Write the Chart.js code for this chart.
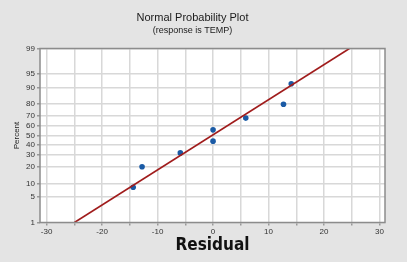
<!DOCTYPE html>
<html lang="en">
<head>
    <meta charset="UTF-8">
    <title>Normal Probability Plot</title>
    <script src="https://cdn.jsdelivr.net/npm/chart.js@4"></script>
    <style>
        body { margin: 0; background: #e4e4e4; }
    </style>
</head>
<body>
    <canvas id="myChart" width="407" height="262"></canvas>
    <script>
    // residuals, with their plotting percent
    var residuals = [-14.4, -12.8, -5.9, 0.0, 0.0, 5.9, 12.7, 14.1];
    var percents = [8.3, 20.2, 32.1, 44.0, 56.0, 67.9, 79.8, 91.7];
    // fitted line end points
    var fitResidual = [-25.0, 24.6];
    var fitPercent = [1, 99];
    // axes
    var xGridTicks = [-30, -25, -20, -15, -10, -5, 0, 5, 10, 15, 20, 25, 30];
    var xLabelTicks = [-30, -20, -10, 0, 10, 20, 30];
    var yTicks = [1, 5, 10, 20, 30, 40, 50, 60, 70, 80, 90, 95, 99];

    // inverse normal cdf (Acklam), used by the probability scale
    function qnorm(p) {
        var a = [-39.69683028665376, 220.9460984245205, -275.9285104469687, 138.3577518672690, -30.66479806614716, 2.506628277459239];
        var b = [-54.47609879822406, 161.5858368580409, -155.6989798598866, 66.80131188771972, -13.28068155288572];
        var c = [-0.007784894002430293, -0.3223964580411365, -2.400758277161838, -2.549732539343734, 4.374664141464968, 2.938163982698783];
        var d = [0.007784695709041462, 0.3224671290700398, 2.445134137142996, 3.754408661907416];
        var q, r;
        if (p < 0.02425) {
            q = Math.sqrt(-2 * Math.log(p));
            return (((((c[0]*q+c[1])*q+c[2])*q+c[3])*q+c[4])*q+c[5]) / ((((d[0]*q+d[1])*q+d[2])*q+d[3])*q+1);
        }
        if (p > 1 - 0.02425) {
            q = Math.sqrt(-2 * Math.log(1 - p));
            return -(((((c[0]*q+c[1])*q+c[2])*q+c[3])*q+c[4])*q+c[5]) / ((((d[0]*q+d[1])*q+d[2])*q+d[3])*q+1);
        }
        q = p - 0.5;
        r = q * q;
        return (((((a[0]*r+a[1])*r+a[2])*r+a[3])*r+a[4])*r+a[5])*q / (((((b[0]*r+b[1])*r+b[2])*r+b[3])*r+b[4])*r+1);
    }

    class ProbabilityScale extends Chart.LinearScale {
        determineDataLimits() {
            this.min = qnorm(yTicks[0] / 100);
            this.max = qnorm(yTicks[yTicks.length - 1] / 100);
        }
        buildTicks() {
            return yTicks.map(function (v) { return { value: v }; });
        }
        getPixelForValue(value) {
            return super.getPixelForValue(qnorm(value / 100));
        }
    }
    ProbabilityScale.id = 'probability';
    ProbabilityScale.defaults = Chart.LinearScale.defaults;
    Chart.register(ProbabilityScale);

    Chart.defaults.font.family = '"Liberation Sans", Arial, sans-serif';
    Chart.defaults.color = '#222';

    var plotFrame = {
        id: 'plotFrame',
        beforeDraw: function (chart) {
            var c = chart.ctx, a = chart.chartArea;
            c.save();
            c.fillStyle = '#e4e4e4';
            c.fillRect(0, 0, chart.width, chart.height);
            c.fillStyle = '#ffffff';
            c.fillRect(a.left, a.top, a.right - a.left, a.bottom - a.top);
            c.restore();
        },
        afterDraw: function (chart) {
            var c = chart.ctx, a = chart.chartArea;
            c.save();
            c.strokeStyle = '#8c8c8c';
            c.lineWidth = 1.5;
            c.strokeRect(a.left, a.top, a.right - a.left, a.bottom - a.top);
            c.restore();
        }
    };

    var points = residuals.map(function (r, i) { return { x: r, y: percents[i] }; });
    var fitLine = fitResidual.map(function (r, i) { return { x: r, y: fitPercent[i] }; });

    var ctx = document.getElementById('myChart');
    new Chart(ctx, {
        type: 'scatter',
        data: {
            datasets: [{
                label: 'Fit',
                data: fitLine,
                showLine: true,
                borderColor: '#a01c1c',
                borderWidth: 1.5,
                pointRadius: 0
            }, {
                label: 'Residuals',
                data: points,
                backgroundColor: '#1a5aa5',
                borderColor: '#1a5aa5',
                pointRadius: 2.8,
                pointBorderWidth: 0
            }]
        },
        options: {
            responsive: false,
            animation: false,
            layout: { padding: { left: 0, right: 22, top: 0, bottom: 0 } },
            plugins: {
                legend: { display: false },
                tooltip: { enabled: false },
                title: {
                    display: true,
                    text: 'Normal Probability Plot',
                    color: '#1a1a1a',
                    font: { size: 11, weight: 'normal' },
                    padding: { top: 11.5, bottom: 0 }
                },
                subtitle: {
                    display: true,
                    text: '(response is TEMP)',
                    color: '#1a1a1a',
                    font: { size: 9 },
                    padding: { top: 0.5, bottom: 12.5 }
                }
            },
            scales: {
                x: {
                    type: 'linear',
                    min: -31.2,
                    max: 31,
                    afterBuildTicks: function (scale) {
                        scale.ticks = xGridTicks.map(function (v) { return { value: v }; });
                    },
                    afterFit: function (scale) { scale.height = 39.5; },
                    ticks: {
                        autoSkip: false,
                        maxRotation: 0,
                        padding: 1,
                        font: { size: 8 },
                        color: '#333',
                        callback: function (v) { return xLabelTicks.indexOf(v) >= 0 ? String(v) : ''; }
                    },
                    grid: { color: '#d8d8d8', lineWidth: 1.5, tickLength: 3, tickColor: '#999' },
                    border: { display: false },
                    title: {
                        display: true,
                        text: 'Residual',
                        color: '#111',
                        font: { size: 17, weight: 'bold', family: '"Liberation Sans Narrow", "DejaVu Sans Condensed", "Liberation Sans", Arial, sans-serif' },
                        padding: { top: 0, bottom: 6.5 }
                    }
                },
                y: {
                    type: 'probability',
                    afterFit: function (scale) { scale.width = 40; },
                    ticks: {
                        autoSkip: false,
                        padding: 2,
                        font: { size: 8 },
                        color: '#333',
                        callback: function (v) { return String(v); }
                    },
                    grid: { color: '#d8d8d8', lineWidth: 1.5, tickLength: 3, tickColor: '#999' },
                    border: { display: false },
                    title: {
                        display: true,
                        text: 'Percent',
                        color: '#222',
                        font: { size: 8 },
                        padding: { top: 12, bottom: 0 }
                    }
                }
            }
        },
        plugins: [plotFrame]
    });
    </script>
</body>
</html>
